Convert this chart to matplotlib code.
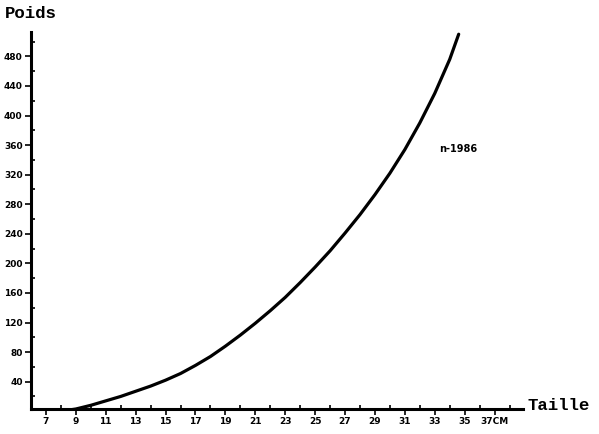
import numpy as np
import matplotlib.pyplot as plt
from matplotlib.ticker import MultipleLocator

# taille (cm) / poids
taille = [8.0, 9, 10, 11, 12, 13, 14, 15, 16, 17, 18, 19, 20, 21, 22, 23,
          24, 25, 26, 27, 28, 29, 30, 31, 32, 33, 34, 34.6]
poids = [0, 3, 8, 14, 20, 27, 34, 42, 51, 62, 74, 88, 103, 119, 136, 154,
         174, 195, 217, 241, 266, 293, 322, 354, 390, 430, 476, 510]

x_ticks = list(range(7, 38, 2))
x_labels = [str(v) for v in x_ticks[:-1]] + ['37CM']
y_ticks = list(range(40, 481, 40))
y_labels = [str(v) for v in y_ticks]

fig = plt.figure(figsize=(5.99, 4.34), dpi=100)
ax = fig.add_axes([31/599, 1 - 409/434, (523 - 31)/599, (409 - 32)/434])

ax.plot(taille, poids, color='black', lw=2.3, solid_capstyle='round',
        solid_joinstyle='round')

ax.set_xlim(6, 38.9)
ax.set_ylim(3, 513)

for s in ['top', 'right']:
    ax.spines[s].set_visible(False)
for s in ['left', 'bottom']:
    ax.spines[s].set_linewidth(2.2)

tickfont = dict(family='DejaVu Sans', weight='bold', size=6.5)
ax.set_xticks(x_ticks)
ax.set_xticklabels(x_labels, **tickfont)
ax.set_yticks(y_ticks)
ax.set_yticklabels(y_labels, **tickfont)
ax.xaxis.set_minor_locator(MultipleLocator(1))
ax.yaxis.set_minor_locator(MultipleLocator(20))
ax.tick_params(which='major', direction='out', length=4, width=1.2, pad=2)
ax.tick_params(which='minor', direction='in', length=3, width=1.2)

lab = dict(family='Liberation Mono', weight='bold', size=12.5)
fig.text(5/599, 1 - 14/434, 'Poids', va='center', ha='left', **lab)
fig.text(527/599, 1 - 406/434, 'Taille', va='center', ha='left', **lab)
ax.text(33.3, 355, 'n-1986', fontsize=7, family='DejaVu Sans',
        weight='bold', va='center', ha='left')

fig.savefig('out.png', dpi=100)
